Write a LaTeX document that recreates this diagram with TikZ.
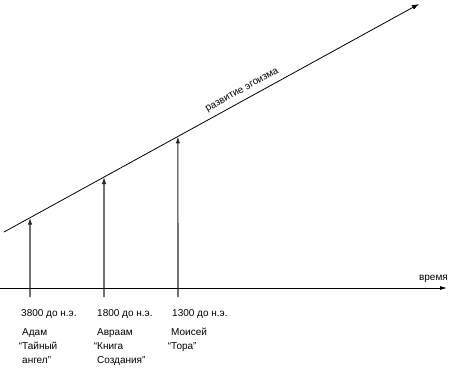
\documentclass[tikz,border=0pt]{standalone}
\usepackage{fontspec}
\setmainfont{Liberation Sans}
\usepackage{tikz}
\usetikzlibrary{arrows.meta,calc,positioning}
\tikzset{
  egoline/.style={
    -{Latex[length=7pt,width=5pt]},
    line width=0.8pt,
    draw=black
  },
  timeline/.style={
    -{Latex[length=7pt,width=4pt]},
    line width=0.8pt,
    draw=black
  },
  eraarrow/.style={
    -{Latex[length=7pt,width=4.5pt]},
    line width=1.1pt,
    draw=black!85
  },
  datelabel/.style={
    anchor=base west,
    inner sep=0pt,
    font=\fontsize{10}{14}\selectfont
  },
  notelabel/.style={
    anchor=north west,
    align=left,
    inner sep=0pt,
    font=\fontsize{10}{14}\selectfont
  },
  axislabel/.style={
    inner sep=0pt,
    font=\fontsize{10}{12}\selectfont
  }
}

\begin{document}
\begin{tikzpicture}[x=1pt,y=-1pt]
  \useasboundingbox (0,0) rectangle (450,368);

  \coordinate (egostart) at (4,232);
  \coordinate (egoend) at (419,4);
  \coordinate (axisstart) at (0,288);
  \coordinate (axisend) at (447,288);

  \draw[egoline] (egostart) -- (egoend)
    node[pos=0.585, sloped, above=5pt, axislabel] (egolabel) {развитие эгоизма};
  \draw[timeline] (axisstart) -- (axisend);
  \node[axislabel, anchor=base east] (timelabel) at (448,280) {время};

  \coordinate (adambase) at (30,297);
  \coordinate (avraambase) at (104,297);
  \coordinate (moiseibase) at (178,297);
  \coordinate (adamtop) at ($(egostart)!0.0627!(egoend)$);
  \coordinate (avraamtop) at ($(egostart)!0.241!(egoend)$);
  \coordinate (moiseitop) at ($(egostart)!0.419!(egoend)$);

  \draw[eraarrow] (adambase) -- (adamtop);
  \draw[eraarrow] (avraambase) -- (avraamtop);
  \draw[eraarrow] (moiseibase) -- (moiseitop);

  \node[datelabel] (adamdate) at (21,316) {3800 до н.э.};
  \node[datelabel] (avraamdate) at (97,316) {1800 до н.э.};
  \node[datelabel] (moiseidate) at (172,316) {1300 до н.э.};

  \node[notelabel] (adam) at (22,328) {Адам\\\llap{“}Тайный\\ангел”};
  \node[notelabel] (avraam) at (97,328) {Авраам\\\llap{“}Книга\\Создания”};
  \node[notelabel] (moisei) at (171,328) {Моисей\\\llap{“}Тора”};
\end{tikzpicture}
\end{document}
